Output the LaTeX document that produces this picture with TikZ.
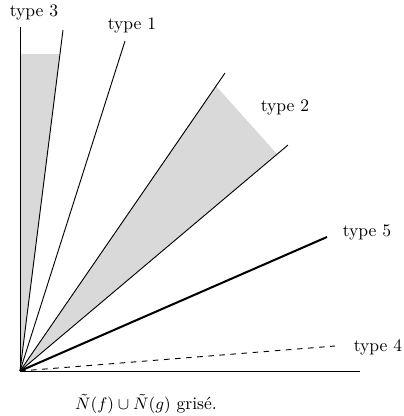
\documentclass[tikz,border=0pt]{standalone}
\usetikzlibrary{calc}
\begin{document}
\begin{tikzpicture}[x=0.54pt,y=-0.54pt,
  ray/.style={line width=0.5pt},
  thickray/.style={line width=1.1pt},
  dashray/.style={line width=0.5pt,dashed},
  shade/.style={fill=gray!30,draw=none},
  lbl/.style={inner sep=0pt,font=\fontsize{9.5}{11}\selectfont}]
\useasboundingbox (0,0) rectangle (404,416);
\coordinate (O) at (20,371);
\coordinate (X) at (360,371);
\coordinate (Y) at (20,27);
\coordinate (T3) at (63,30);
\coordinate (T1) at (125,41);
\coordinate (T2a) at (225,73);
\coordinate (T2b) at (288,145);
\coordinate (T5) at (327,237);
\coordinate (T4) at (335,346);
% shaded regions
\fill[shade] (O) -- (20,54) -- (59.9,54) -- cycle;
\fill[shade] (O) -- (216,86) -- (277,154) -- cycle;
% rays
\draw[ray] (O) -- (X);
\draw[ray] (O) -- (Y);
\draw[ray] (O) -- (T3);
\draw[ray] (O) -- (T1);
\draw[ray] (O) -- (T2a);
\draw[ray] (O) -- (T2b);
\draw[thickray] (O) -- (T5);
\draw[dashray] (O) -- (T4);
% labels
\node[lbl] (L3) at (34,12) {type 3};
\node[lbl] (L1) at (132,25) {type 1};
\node[lbl] (L2) at (285,107) {type 2};
\node[lbl] (L5) at (367,232) {type 5};
\node[lbl] (L4) at (378,347) {type 4};
\node[lbl] (cap) at (146,404) {$\tilde N(f)\cup\tilde N(g)$ gris\'e.};
\end{tikzpicture}
\end{document}
